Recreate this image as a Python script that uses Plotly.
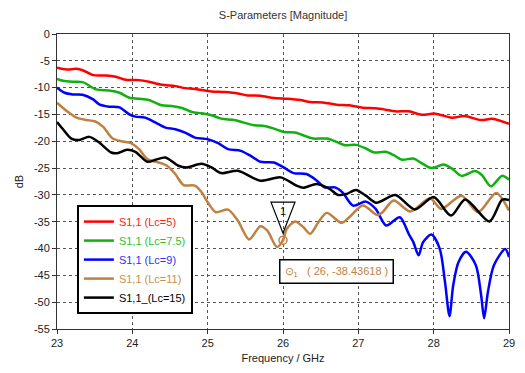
import plotly.graph_objects as go

# S11 magnitude (dB) versus frequency (GHz) for each coupling length Lc
f_lc5 = [23.00, 23.13, 23.26, 23.34, 23.48, 23.65, 23.78, 23.91, 24.09, 24.22, 24.39, 24.57,
         24.70, 24.87, 25.05, 25.22, 25.40, 25.53, 25.70, 25.88, 26.05, 26.23, 26.36, 26.53,
         26.71, 26.88, 27.06, 27.23, 27.36, 27.49, 27.67, 27.84, 28.02, 28.24, 28.41, 28.63,
         28.78, 29.00]
s_lc5 = [-6.31, -6.62, -6.50, -6.75, -7.67, -7.74, -7.98, -8.54, -8.60, -8.91, -9.47, -9.72,
         -10.09, -10.33, -10.71, -10.83, -11.08, -11.45, -11.51, -11.94, -12.07, -12.31, -12.69, -12.75,
         -13.18, -13.30, -13.74, -13.86, -14.11, -14.42, -14.42, -15.05, -14.85, -15.60, -15.30, -16.05,
         -15.80, -16.75]

f_lc75 = [23.00, 23.08, 23.21, 23.34, 23.52, 23.69, 23.83, 23.96, 24.09, 24.22, 24.39, 24.52,
          24.66, 24.79, 24.92, 25.05, 25.18, 25.35, 25.48, 25.62, 25.75, 25.88, 26.01, 26.16,
          26.29, 26.40, 26.58, 26.71, 26.82, 26.97, 27.10, 27.21, 27.36, 27.47, 27.58, 27.73,
          27.84, 27.97, 28.13, 28.24, 28.37, 28.55, 28.64, 28.76, 28.91, 29.00]
s_lc75 = [-8.35, -8.73, -8.91, -8.97, -10.33, -10.52, -10.95, -11.88, -12.07, -12.31, -13.30, -13.43,
          -13.80, -14.54, -14.79, -15.16, -15.78, -16.03, -16.52, -17.02, -17.14, -17.64, -18.26, -18.38,
          -19.00, -19.49, -19.49, -20.11, -20.73, -20.67, -21.35, -22.09, -21.97, -22.59, -23.45, -23.21,
          -24.07, -25.00, -24.35, -25.06, -26.45, -25.55, -26.30, -28.40, -26.42, -27.17]

f_lc9 = [23.00, 23.10, 23.21, 23.34, 23.48, 23.56, 23.69, 23.83, 23.96, 24.04, 24.17, 24.31,
         24.44, 24.57, 24.70, 24.83, 25.00, 25.14, 25.27, 25.44, 25.57, 25.70, 25.88, 26.01,
         26.14, 26.31, 26.45, 26.55, 26.69, 26.79, 26.93, 27.10, 27.23, 27.37, 27.55, 27.67,
         27.73, 27.80, 27.86, 27.97, 28.08, 28.15, 28.21, 28.26, 28.33, 28.43, 28.56, 28.63,
         28.67, 28.72, 28.80, 28.95, 29.00]
s_lc9 = [-10.02, -10.95, -11.26, -11.32, -12.19, -13.12, -13.55, -13.68, -14.98, -15.41, -15.59, -16.52,
         -17.45, -17.76, -18.38, -19.31, -19.62, -20.36, -21.47, -21.78, -22.71, -23.82, -23.95, -24.88,
         -25.93, -26.11, -27.35, -28.59, -28.59, -29.52, -32.00, -31.25, -32.61, -35.70, -34.16, -37.30,
         -38.80, -41.27, -38.80, -37.40, -40.00, -46.20, -52.60, -46.80, -42.50, -40.60, -43.10, -48.70,
         -53.00, -48.10, -43.10, -40.10, -41.58]

f_lc11 = [23.00, 23.13, 23.26, 23.39, 23.50, 23.61, 23.74, 23.87, 23.98, 24.09, 24.20, 24.35,
          24.46, 24.57, 24.68, 24.83, 24.92, 25.00, 25.11, 25.27, 25.40, 25.55, 25.70, 25.79,
          25.92, 26.00, 26.05, 26.16, 26.27, 26.36, 26.47, 26.58, 26.78, 26.88, 27.06, 27.25,
          27.32, 27.47, 27.69, 27.95, 28.10, 28.37, 28.59, 28.83, 29.00]
s_lc11 = [-12.81, -14.36, -15.59, -16.03, -16.27, -17.26, -19.49, -20.05, -20.36, -21.47, -23.33, -23.95,
          -24.57, -26.11, -28.16, -28.28, -29.52, -31.37, -33.23, -32.74, -34.78, -38.30, -35.83, -36.63,
          -39.73, -38.43618, -36.32, -34.96, -36.01, -37.25, -35.09, -33.35, -35.21, -34.16, -31.99, -33.75,
          -33.23, -31.06, -33.11, -30.63, -32.61, -30.14, -33.23, -29.64, -32.92]

f_lc15 = [23.00, 23.08, 23.19, 23.30, 23.43, 23.56, 23.72, 23.80, 23.93, 24.04, 24.20, 24.31,
          24.44, 24.61, 24.72, 24.92, 25.05, 25.18, 25.40, 25.70, 25.97, 26.18, 26.27, 26.45,
          26.62, 26.73, 26.84, 26.97, 27.10, 27.24, 27.49, 27.75, 28.00, 28.23, 28.42, 28.74,
          28.91, 29.00]
s_lc15 = [-16.40, -17.76, -19.49, -19.74, -19.18, -20.24, -22.09, -22.22, -21.60, -21.97, -23.82, -23.45,
          -23.02, -24.57, -24.88, -24.20, -24.88, -25.93, -25.50, -27.35, -26.73, -28.28, -28.65, -27.97,
          -28.90, -30.01, -29.83, -29.08, -30.14, -31.45, -30.01, -32.70, -30.40, -33.85, -30.85, -34.96,
          -30.88, -30.94]

series = [
    ("S1,1 (Lc=5)", f_lc5, s_lc5, "#ff0000", "#ff2020"),
    ("S1,1 (Lc=7.5)", f_lc75, s_lc75, "#10b010", "#30c030"),
    ("S1,1 (Lc=9)", f_lc9, s_lc9, "#0000ff", "#3030ff"),
    ("S1,1 (Lc=11)", f_lc11, s_lc11, "#bf8040", "#c89050"),
    ("S1,1_(Lc=15)", f_lc15, s_lc15, "#000000", "#000000"),
]

# marker 1 placed on the Lc=11 curve
mark_f = 26
mark_db = -38.43618
mark_color = "#bf8040"

x_ticks = [23, 24, 25, 26, 27, 28, 29]
y_ticks = [0, -5, -10, -15, -20, -25, -30, -35, -40, -45, -50, -55]

FONT = "Liberation Sans"

fig = go.Figure()
for name, fx, sy, col, tcol in series:
    fig.add_trace(go.Scatter(
        x=fx, y=sy, mode="lines",
        name=f"<span style='color:{tcol}'>{name}</span>",
        line=dict(color=col, width=2.5, shape="spline", smoothing=0.8),
    ))

fig.add_trace(go.Scatter(
    x=[mark_f], y=[mark_db], mode="markers", showlegend=False,
    marker=dict(symbol="circle-open-dot", size=8, color=mark_color, line=dict(width=1.5)),
))

# downward-pointing marker flag above the point
fig.add_shape(
    type="path", xref="x", yref="y",
    xsizemode="pixel", ysizemode="pixel",
    xanchor=mark_f, yanchor=mark_db,
    path="M -12,38 L 12,38 L 0,7 Z",
    line=dict(color="black", width=1.2), fillcolor="rgba(255,255,255,0)",
)
fig.add_annotation(
    x=mark_f, y=mark_db, text="1", showarrow=False, yshift=29,
    font=dict(family=FONT, size=11, color="black"),
)
fig.add_annotation(
    x=mark_f, y=mark_db, xanchor="left", yanchor="top", xshift=-4, yshift=-19,
    showarrow=False,
    text=f"⊙<sub>1</sub>   ( {mark_f}, {mark_db} )",
    font=dict(family=FONT, size=11, color=mark_color),
    bgcolor="white", bordercolor="black", borderwidth=1.5, borderpad=4,
)

fig.update_layout(
    width=525, height=373,
    margin=dict(l=57, r=10, t=34, b=42),
    paper_bgcolor="white", plot_bgcolor="white",
    font=dict(family=FONT, size=11, color="#222222"),
    title=dict(text="S-Parameters [Magnitude]", x=0.5, xref="paper", y=0.96, yanchor="middle",
               font=dict(family=FONT, size=11, color="#333333")),
    legend=dict(
        x=0.044, y=0.42, xanchor="left", yanchor="top",
        bgcolor="white", bordercolor="black", borderwidth=2,
        font=dict(family=FONT, size=11), tracegroupgap=0,
        itemwidth=30,
    ),
    showlegend=True,
)
fig.update_xaxes(
    range=[23, 29], tickvals=x_ticks, ticktext=[str(v) for v in x_ticks],
    showgrid=True, gridcolor="#555555", griddash="dot", gridwidth=1,
    showline=True, linecolor="#333333", linewidth=1, mirror=True,
    ticks="outside", ticklen=4, tickcolor="#333333",
    zeroline=False,
    title=dict(text="Frequency / GHz", standoff=6, font=dict(family=FONT, size=11)),
)
fig.update_yaxes(
    range=[-55, 0], tickvals=y_ticks, ticktext=[str(v) for v in y_ticks],
    showgrid=True, gridcolor="#555555", griddash="dot", gridwidth=1,
    showline=True, linecolor="#333333", linewidth=1, mirror=True,
    ticks="outside", ticklen=4, tickcolor="#333333",
    zeroline=False,
    title=dict(text="dB", standoff=8, font=dict(family=FONT, size=11)),
)

fig.write_html("out.html")
